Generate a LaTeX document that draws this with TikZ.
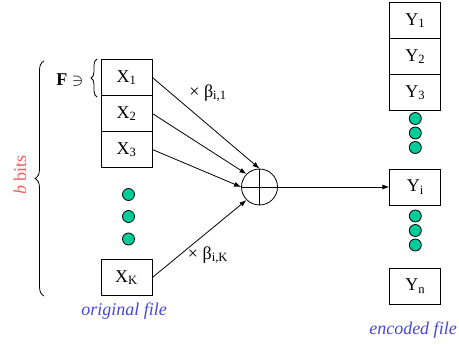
\documentclass[tikz,border=0pt]{standalone}
\usepackage{fontspec}
\setmainfont{Liberation Serif}
\usetikzlibrary{arrows.meta,decorations.pathreplacing}
\definecolor{dotgreen}{RGB}{0,204,153}
\definecolor{bitred}{RGB}{250,90,90}
\definecolor{fileblue}{RGB}{70,70,220}
\tikzset{
  blk/.style={draw,minimum width=51pt,minimum height=36pt,inner sep=0pt},
  gdot/.style={circle,draw,fill=dotgreen,minimum size=12pt,inner sep=0pt},
}
\begin{document}
\begin{tikzpicture}[x=1pt,y=-1pt,line width=0.8pt,font=\fontsize{18}{21}\selectfont,>={Latex[length=7pt,width=5pt]}]
\useasboundingbox (0,0) rectangle (459,345);
% original file
\node[blk] (x1) at (126.5,77.5) {X\textsubscript{1}};
\node[blk] (x2) at (126.5,113.5) {X\textsubscript{2}};
\node[blk] (x3) at (126.5,149.5) {X\textsubscript{3}};
\node[gdot] (xd1) at (128.5,194.5) {};
\node[gdot] (xd2) at (128.5,216.5) {};
\node[gdot] (xd3) at (128.5,239) {};
\node[blk] (xk) at (126.5,277.5) {X\textsubscript{K}};
\node[text=fileblue,font=\fontsize{18}{21}\selectfont\itshape] (orig) at (124,311) {original file};
% braces
\draw[decorate,decoration={brace,amplitude=9pt}] (44,296) -- (44,61);
\node[text=bitred,rotate=90] (bits) at (20,175) {\textit{b} bits};
\draw[decorate,decoration={brace,amplitude=6pt}] (97,97) -- (97,59);
\node (fset) at (70,80) {\textbf{F} $\ni$};
% sum
\node[draw,circle,minimum size=36pt,inner sep=0pt] (sum) at (259.5,187) {};
\draw (sum.north) -- (sum.south) (sum.west) -- (sum.east);
\draw[->] (x1.east) -- (sum.north);
\draw[->] (x2.east) -- (sum.north west);
\draw[->] (x3.east) -- (sum.west);
\draw[->] (xk.east) -- (sum.south west);
\node (b1) at (208,93) {× β\textsubscript{i,1}};
\node (bk) at (208,255) {× β\textsubscript{i,K}};
% encoded file
\node[blk] (y1) at (415.3,20.5) {Y\textsubscript{1}};
\node[blk] (y2) at (415.3,56.5) {Y\textsubscript{2}};
\node[blk] (y3) at (415.3,92.5) {Y\textsubscript{3}};
\node[gdot] (yd1) at (415.3,118.5) {};
\node[gdot] (yd2) at (415.3,133) {};
\node[gdot] (yd3) at (415.3,147.5) {};
\node[blk] (yi) at (415.3,187) {Y\textsubscript{i}};
\node[gdot] (yd4) at (415.3,216) {};
\node[gdot] (yd5) at (415.3,230.5) {};
\node[gdot] (yd6) at (415.3,245) {};
\node[blk] (yn) at (415.3,286) {Y\textsubscript{n}};
\node[text=fileblue,font=\fontsize{18}{21}\selectfont\itshape] (enc) at (413,330) {encoded file};
\draw[->] (sum.east) -- (yi.west);
\end{tikzpicture}
\end{document}
